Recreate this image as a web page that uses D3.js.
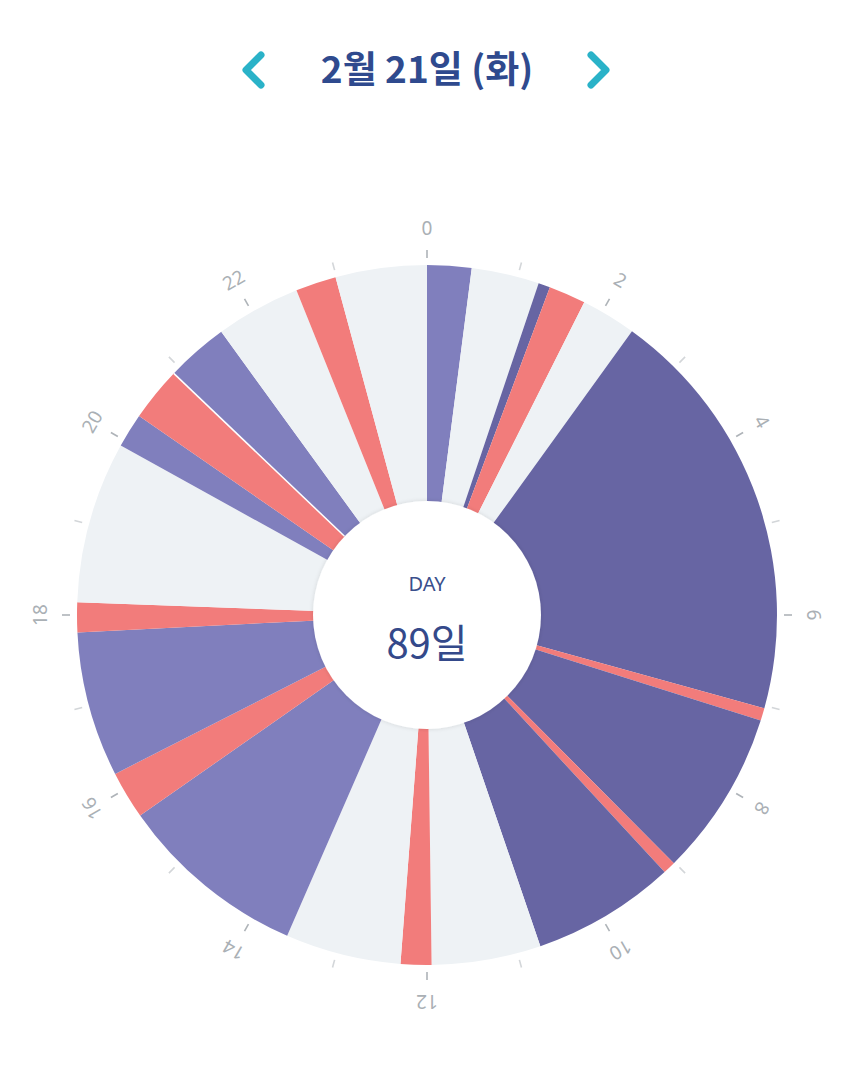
<!DOCTYPE html>
<html>
<head>
<meta charset="utf-8">
<script src="https://cdn.jsdelivr.net/npm/d3@7"></script>
<style>
  html, body { margin: 0; padding: 0; background: #fff; }
  svg { display: block; }
</style>
</head>
<body>
<div id="chart"></div>
<script>
// time blocks of the day (hours), each block ends where the next begins
const segStart = [0, 0.49, 1.24, 1.37, 1.78, 2.39, 7.03, 7.17, 9.01, 9.15, 10.74, 11.95,
                  12.29, 13.57, 15.67, 16.2, 17.81, 18.14, 19.93, 20.31, 20.91, 21.6, 22.54, 22.99];
const segType = ["mid", "empty", "dark", "red", "empty", "dark", "red", "dark", "red", "dark", "empty", "red",
                 "empty", "mid", "red", "mid", "red", "empty", "mid", "red", "mid", "empty", "red", "empty"];
const gapHours = [20.91];
const hourTicks = d3.range(0, 24);
const hourLabels = d3.range(0, 24, 2);
const titleText = "2월 21일 (화)";
const centerTop = "DAY";
const centerValue = "89일";

const colors = { mid: "#807fbd", dark: "#6765a3", red: "#f27c7b", empty: "#eef2f5" };

const width = 853, height = 1080;
const cx = 427, cy = 615;
const outerR = 350, innerR = 114;

const segs = segStart.map((s, i) => ({
  start: s,
  end: i < segStart.length - 1 ? segStart[i + 1] : 24,
  type: segType[i]
}));

const svg = d3.select("#chart").append("svg")
  .attr("width", width)
  .attr("height", height);

const defs = svg.append("defs");
const shadow = defs.append("filter").attr("id", "soft")
  .attr("x", "-20%").attr("y", "-20%").attr("width", "140%").attr("height", "140%");
shadow.append("feDropShadow").attr("dx", 0).attr("dy", 0)
  .attr("stdDeviation", 2).attr("flood-color", "#000").attr("flood-opacity", 0.12);

// header
svg.append("text")
  .attr("x", cx).attr("y", 83)
  .attr("text-anchor", "middle")
  .attr("font-family", "'Noto Sans CJK KR', 'Noto Sans', sans-serif")
  .attr("font-weight", 700)
  .attr("font-size", 37)
  .attr("fill", "#2f4a8e")
  .text(titleText);

const chev = d3.line();
svg.append("path")
  .attr("d", chev([[261, 55], [246, 70], [261, 85]]))
  .attr("fill", "none").attr("stroke", "#2ab2c8")
  .attr("stroke-width", 7).attr("stroke-linecap", "round").attr("stroke-linejoin", "round");
svg.append("path")
  .attr("d", chev([[591, 55], [606, 70], [591, 85]]))
  .attr("fill", "none").attr("stroke", "#2ab2c8")
  .attr("stroke-width", 7).attr("stroke-linecap", "round").attr("stroke-linejoin", "round");

const angle = d3.scaleLinear().domain([0, 24]).range([0, 2 * Math.PI]);

const g = svg.append("g").attr("transform", `translate(${cx},${cy})`);

const arc = d3.arc()
  .innerRadius(innerR - 4)
  .outerRadius(outerR)
  .startAngle(d => angle(d.start))
  .endAngle(d => angle(d.end));

g.selectAll("path.seg")
  .data(segs)
  .join("path")
  .attr("class", "seg")
  .attr("d", arc)
  .attr("fill", d => colors[d.type]);

// thin white separators
g.selectAll("line.gap")
  .data(gapHours)
  .join("line")
  .attr("class", "gap")
  .attr("x1", 0).attr("y1", -innerR)
  .attr("x2", 0).attr("y2", -outerR)
  .attr("transform", d => `rotate(${angle(d) * 180 / Math.PI})`)
  .attr("stroke", "#fff").attr("stroke-width", 1.5);

// hour ticks
g.selectAll("line.tick")
  .data(hourTicks)
  .join("line")
  .attr("class", "tick")
  .attr("x1", 0).attr("y1", -357)
  .attr("x2", 0).attr("y2", -365)
  .attr("transform", d => `rotate(${angle(d) * 180 / Math.PI})`)
  .attr("stroke", d => d % 2 === 0 ? "#aeb3b8" : "#d3d6d9")
  .attr("stroke-width", 1.6);

g.selectAll("text.hour")
  .data(hourLabels)
  .join("text")
  .attr("class", "hour")
  .attr("transform", d => `rotate(${angle(d) * 180 / Math.PI}) translate(0,-387)`)
  .attr("text-anchor", "middle")
  .attr("dominant-baseline", "central")
  .attr("font-family", "'Noto Sans', sans-serif")
  .attr("font-size", 19)
  .attr("fill", "#aab0b5")
  .text(d => d);

// center
g.append("circle")
  .attr("r", innerR)
  .attr("fill", "#fff")
  .attr("filter", "url(#soft)");

g.append("text")
  .attr("y", -32)
  .attr("text-anchor", "middle")
  .attr("dominant-baseline", "central")
  .attr("font-family", "'Noto Sans', sans-serif")
  .attr("font-size", 20)
  .attr("fill", "#3a4f8c")
  .text(centerTop);

g.append("text")
  .attr("y", 26)
  .attr("text-anchor", "middle")
  .attr("dominant-baseline", "central")
  .attr("font-family", "'Noto Sans CJK KR', sans-serif")
  .attr("font-size", 40)
  .attr("fill", "#34498a")
  .text(centerValue);
</script>
</body>
</html>
